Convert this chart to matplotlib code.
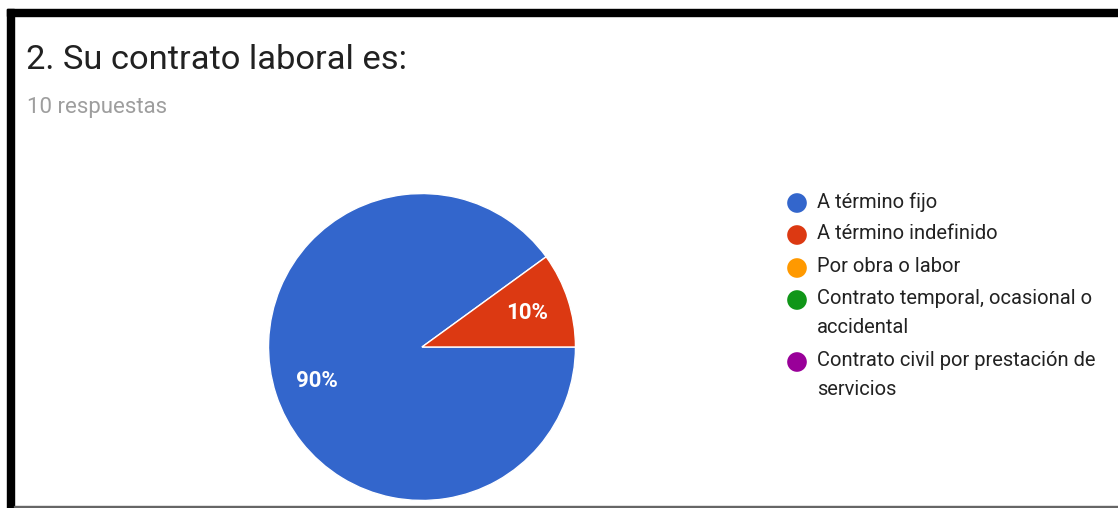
import matplotlib.pyplot as plt
from matplotlib.patches import Rectangle

plt.rcParams["font.family"] = ["Roboto", "DejaVu Sans"]

# survey answers
labels = [
    "A término fijo",
    "A término indefinido",
    "Por obra o labor",
    "Contrato temporal, ocasional o\naccidental",
    "Contrato civil por prestación de\nservicios",
]
counts = [9, 1, 0, 0, 0]
colors = ["#3366CC", "#DC3912", "#FF9900", "#109618", "#990099"]

title = "2. Su contrato laboral es:"
subtitle = "10 respuestas"

W, H = 1118, 508
fig = plt.figure(figsize=(W / 100, H / 100), dpi=100)


def fx(px):
    return px / W


def fy(py):
    return 1 - py / H


# frame around the screenshot
fig.patches.append(Rectangle((fx(7), fy(16)), fx(1111), 7 / H, transform=fig.transFigure,
                             color="black", zorder=5))
fig.patches.append(Rectangle((fx(7), 0), fx(7), fy(9), transform=fig.transFigure,
                             color="black", zorder=5))
fig.patches.append(Rectangle((fx(14), fy(507)), fx(1104), 1.5 / H, transform=fig.transFigure,
                             color="#666666", zorder=5))

fig.text(fx(26), fy(69), title, fontsize=24.8, color="#212121", va="baseline", ha="left")
fig.text(fx(27), fy(113), subtitle, fontsize=16, color="#9e9e9e", va="baseline", ha="left")

# pie
r = 155
cx, cy = 422, 347
ax = fig.add_axes([fx(cx - r), fy(cy + r), 2 * r / W, 2 * r / H])
shown = [(c, col) for c, col in zip(counts, colors) if c > 0]
wedges, texts, autotexts = ax.pie(
    [s[0] for s in shown],
    colors=[s[1] for s in shown],
    startangle=36,
    counterclock=True,
    radius=1,
    autopct=lambda p: f"{p:.0f}%",
    pctdistance=0.72,
    wedgeprops=dict(edgecolor="white", linewidth=1),
    textprops=dict(color="white", fontsize=16, fontweight="bold"),
)
ax.set_xlim(-1.01, 1.01)
ax.set_ylim(-1.01, 1.01)
ax.set_aspect("equal")
ax.axis("off")

# legend drawn by hand
leg_y = [203, 235, 268, 300, 362]
lax = fig.add_axes([0, 0, 1, 1], facecolor="none")
lax.set_xlim(0, W)
lax.set_ylim(H, 0)
lax.axis("off")
lax.scatter([797] * len(leg_y), leg_y, s=200, c=colors, edgecolors="none")
for lab, y in zip(labels, leg_y):
    lax.text(817, y - 11, lab, fontsize=14.5, color="#222222", va="top", ha="left",
             linespacing=1.68)

fig.savefig("out.png", dpi=100, facecolor="white")
